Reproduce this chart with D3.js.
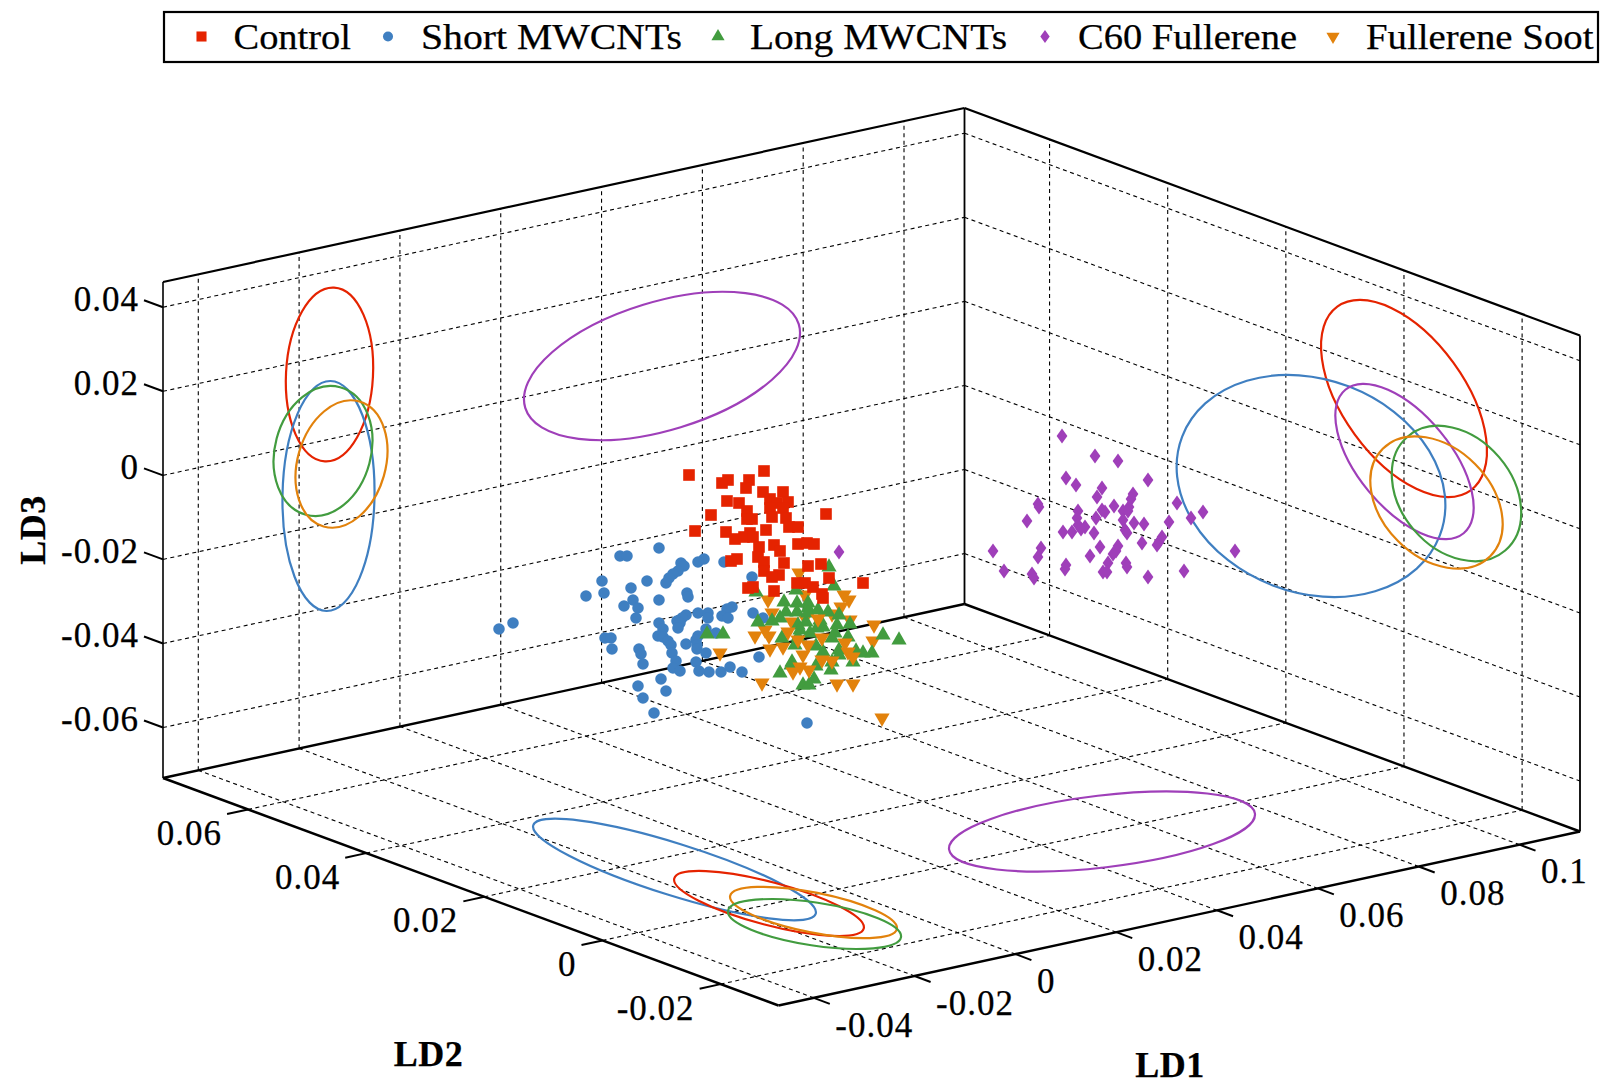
<!DOCTYPE html>
<meta charset="utf-8">
<title>LD scores</title>
<style>
  body { margin: 0; background: #fff; }
  text { font-family: "Liberation Serif", serif; fill: #000; stroke: #000; stroke-width: 0.25px; }
</style>
<svg width="1600" height="1084"></svg>
<script src="https://d3js.org/d3.v7.min.js"></script>
<script>

var seriesNames = ["Control", "Short MWCNTs", "Long MWCNTs", "C60 Fullerene", "Fullerene Soot"];
var seriesColors = ["#e52300", "#3f7fc1", "#429c3f", "#9f3fb9", "#e2820c"];

var ld1Ticks = [-0.04, -0.02, 0, 0.02, 0.04, 0.06, 0.08, 0.1];
var ld2Ticks = [-0.02, 0, 0.02, 0.04, 0.06];
var ld3Ticks = [-0.06, -0.04, -0.02, 0, 0.02, 0.04];

// Only the projection can be read from one picture, not the depth of a point,
// so the points are kept as [u, v] on the plane of the view (see viewX / viewY)
var control = [[-.0622,.005],[-.0472,.0058],[-.0544,.004],[-.0556,.0034],[-.0502,.004],[-.0508,.0024],[-.0474,.0016],[-.0434,.0016],[-.0546,-.0002],[-.0522,-.0006],[-.046,.0002],[-.0446,-.0006],[-.0424,-.0004],[-.046,-.0016],[-.0434,-.0016],[-.0506,-.0022],[-.0578,-.003],[-.0348,-.0028],[-.0456,-.0034],[-.0428,-.0036],[-.0506,-.0038],[-.0496,-.0038],[-.0422,-.0054],[-.0404,-.0054],[-.061,-.0062],[-.0548,-.0064],[-.0468,-.006],[-.05,-.0066],[-.053,-.0078],[-.0512,-.0074],[-.0494,-.0074],[-.0482,-.0094],[-.0452,-.009],[-.044,-.0102],[-.0404,-.0088],[-.0386,-.0086],[-.0372,-.0088],[-.0484,-.0114],[-.0526,-.0118],[-.0538,-.0122],[-.0472,-.0124],[-.0432,-.0126],[-.0384,-.0132],[-.0358,-.0128],[-.0472,-.0142],[-.0442,-.015],[-.0456,-.0154],[-.0342,-.0156],[-.0274,-.0166],[-.0406,-.0166],[-.039,-.0166],[-.0374,-.0174],[-.0494,-.0174],[-.0504,-.0176],[-.0452,-.0182],[-.0356,-.0188],[-.0354,-.0196]];

var shortTubes = [[-.0682,-.0096],[-.076,-.0112],[-.0746,-.0112],[-.0592,-.0118],[-.0604,-.0124],[-.0638,-.0126],[-.0552,-.0124],[-.0632,-.0132],[-.0644,-.0142],[-.0654,-.0148],[-.0662,-.0156],[-.0668,-.0166],[-.0796,-.0162],[-.0706,-.0162],[-.0496,-.0154],[-.0738,-.0176],[-.0792,-.0186],[-.0828,-.0192],[-.0626,-.0186],[-.0624,-.0194],[-.0682,-.02],[-.0734,-.02],[-.0752,-.0212],[-.0724,-.0216],[-.0728,-.0236],[-.0974,-.0246],[-.1002,-.0258],[-.0536,-.0214],[-.0546,-.0218],[-.0604,-.0226],[-.0584,-.0226],[-.0584,-.0236],[-.0556,-.0232],[-.0544,-.0236],[-.0494,-.0226],[-.0474,-.0236],[-.0628,-.023],[-.0636,-.0236],[-.0646,-.0242],[-.064,-.0246],[-.0644,-.0256],[-.0682,-.0246],[-.0674,-.0258],[-.0684,-.0272],[-.0674,-.0274],[-.0664,-.0282],[-.0658,-.029],[-.0588,-.0258],[-.0568,-.0266],[-.0604,-.0272],[-.0608,-.028],[-.0628,-.0288],[-.0606,-.029],[-.0606,-.0298],[-.079,-.0276],[-.0778,-.0276],[-.0776,-.0298],[-.0722,-.0298],[-.0718,-.0308],[-.0714,-.0328],[-.0656,-.0306],[-.0588,-.0306],[-.0648,-.0322],[-.0608,-.0324],[-.0654,-.0336],[-.064,-.0342],[-.0602,-.0342],[-.0582,-.0344],[-.0558,-.0344],[-.054,-.0334],[-.0516,-.0344],[-.0482,-.0314],[-.0678,-.0358],[-.0724,-.0372],[-.0668,-.0382],[-.0714,-.0396],[-.0692,-.0426],[-.0386,-.0446]];

var longTubes = [[-.0554,-.0268],[-.0586,-.0268],[-.0484,-.0244],[-.0432,-.0204],[-.0406,-.0206],[-.0384,-.0206],[-.0332,-.0172],[-.0488,-.0184],[-.0408,-.018],[-.0428,-.0224],[-.0406,-.0224],[-.0384,-.0216],[-.0364,-.022],[-.0344,-.0224],[-.0322,-.023],[-.0456,-.0242],[-.044,-.0236],[-.0388,-.0244],[-.0404,-.025],[-.036,-.024],[-.03,-.0248],[-.0326,-.025],[-.04,-.026],[-.0366,-.0256],[-.0354,-.0254],[-.033,-.0266],[-.0304,-.0274],[-.0436,-.0276],[-.0336,-.0276],[-.0234,-.027],[-.0202,-.028],[-.041,-.029],[-.0368,-.0292],[-.0354,-.0304],[-.0322,-.03],[-.0288,-.0302],[-.0274,-.0306],[-.0256,-.0306],[-.0416,-.0324],[-.0418,-.033],[-.0368,-.0332],[-.0336,-.0324],[-.0338,-.034],[-.0294,-.0324],[-.044,-.0346],[-.0372,-.0358],[-.0394,-.037],[-.0382,-.037],[-.0322,-.031],[-.0404,-.0274],[-.038,-.0266],[-.0384,-.0226],[-.0342,-.0134]];

var c60 = [[.0124,.0128],[.019,.0088],[.0236,.0078],[.0132,.0044],[.0152,.003],[.0296,.004],[.0204,.0024],[.0194,.0006],[.0266,.0012],[.0262,.0002],[.0076,-.0008],[.0078,-.0014],[.0228,-.0012],[.0258,-.0014],[.0204,-.002],[.021,-.0024],[.0246,-.0022],[.0256,-.0022],[.0156,-.0022],[.0154,-.0036],[.0192,-.0036],[.0054,-.0042],[.0246,-.004],[.0268,-.0046],[.0288,-.0048],[.0354,-.0006],[.0406,-.0024],[.0382,-.0036],[.0338,-.0044],[.0156,-.005],[.017,-.0054],[.0162,-.0058],[.0126,-.0064],[.0144,-.0064],[.0188,-.0066],[.025,-.006],[.0254,-.0066],[.0324,-.0074],[.0318,-.0084],[.0314,-.009],[.0284,-.0086],[.02,-.0094],[.0236,-.0092],[.0232,-.0102],[.0226,-.0108],[-.0014,-.0102],[.0082,-.0096],[.0076,-.0114],[.018,-.0112],[.047,-.0102],[.0252,-.0126],[.0254,-.0134],[.0216,-.0126],[.0132,-.013],[.013,-.0138],[.0206,-.0144],[.0214,-.0144],[.0008,-.0142],[.0064,-.0148],[.0068,-.0156],[.0296,-.0154],[.0368,-.0142],[-.0322,-.0104]];

// the soot cloud lies partly behind and partly in front of the long tubes
var sootBack = [[-.0464,-.02],[-.0402,-.0146],[-.0312,-.019],[-.0302,-.02],[-.0318,-.0214],[-.0456,-.0226],[-.0336,-.0228],[-.03,-.024],[-.0252,-.025],[-.0254,-.0282],[-.049,-.0272],[-.047,-.026],[-.0462,-.0272],[-.046,-.0298],[-.0434,-.0294],[-.0416,-.0244],[-.039,-.0236],[-.0476,-.0366],[-.0326,-.0368],[-.0294,-.0368],[-.0236,-.0436],[-.056,-.0306],[-.039,-.019]];
var sootFront = [[-.0364,-.0238],[-.0424,-.0264],[-.0404,-.028],[-.0384,-.029],[-.0356,-.0276],[-.031,-.0286],[-.0304,-.0304],[-.0294,-.0314],[-.0394,-.031],[-.0356,-.032],[-.0336,-.0322],[-.04,-.0334],[-.0382,-.034],[-.0414,-.0344]];

// confidence ellipses: series index, centre u, centre v, semi axes, tilt in degrees
var leftWallEllipses = [[0,-.1341,.0251,.0174,.0087,93],[1,-.1343,.0008,.023,.0092,91],[2,-.1354,.0098,.0132,.0096,105],[4,-.1317,.0072,.013,.0088,106],[3,-.0676,.0268,.0286,.0128,-17]];
var rightWallEllipses = [[0,.0808,.0203,.0227,.0122,54],[1,.0622,.0028,.0276,.0213,21],[3,.0809,.0077,.0186,.0093,50.5],[2,.0913,.0013,.015,.0112,49.5],[4,.0873,-.0005,.0152,.0109,45]];
var floorEllipses = [[3,.0204,-.0663,.0308,.0072,-6.7],[1,-.0651,-.0739,.0296,.0052,17.4],[0,-.0462,-.0807,.0196,.0043,14.8],[4,-.0373,-.0825,.017,.004,11.2],[2,-.0371,-.0848,.0175,.0043,8.6]];

var legendTextWidth = [117.5, 261, 257, 219, 227.5];
var legendTextX = [233.5, 421, 750, 1078, 1366];
var legendMarkX = [201.5, 388, 718, 1045, 1333];

var svg = d3.select("svg");

// the plane of the view
var viewX = d3.scaleLinear().domain([-0.2, 0.12]).range([0, 1600]);
var viewY = d3.scaleLinear().domain([0.1, -0.1168]).range([0, 1084]);

// the box: an affine projection from its front floor corner
var ld1Min = -0.047, ld1Max = 0.112, ld2Min = -0.0298, ld2Max = 0.0744, ld3Min = -0.072, ld3Max = 0.046;
var ld1Frac = d3.scaleLinear().domain([ld1Min, ld1Max]).range([0, 1]);
var ld2Frac = d3.scaleLinear().domain([ld2Min, ld2Max]).range([0, 1]);
var ld3Frac = d3.scaleLinear().domain([ld3Min, ld3Max]).range([0, 1]);

function project(a, b, c) {
    var u = ld1Frac(a), v = ld2Frac(b), w = ld3Frac(c);
    return [778.5 + u * 801.5 + v * -615.5, 1005.5 + u * -174 + v * -227.5 - w * 496];
}

var line = d3.line();

function seg(from, to, width, dashed) {
    svg.append("path")
        .attr("d", line([project.apply(null, from), project.apply(null, to)]))
        .attr("fill", "none")
        .attr("stroke", "#000")
        .attr("stroke-width", width)
        .attr("stroke-dasharray", dashed ? "4,3.5" : null);
}

// grid
ld1Ticks.forEach(function(t) {
    seg([t, ld2Max, ld3Min], [t, ld2Max, ld3Max], 1.1, true);
    seg([t, ld2Min, ld3Min], [t, ld2Max, ld3Min], 1.1, true);
});
ld2Ticks.forEach(function(t) {
    seg([ld1Max, t, ld3Min], [ld1Max, t, ld3Max], 1.1, true);
    seg([ld1Min, t, ld3Min], [ld1Max, t, ld3Min], 1.1, true);
});
ld3Ticks.forEach(function(t) {
    seg([ld1Min, ld2Max, t], [ld1Max, ld2Max, t], 1.1, true);
    seg([ld1Max, ld2Max, t], [ld1Max, ld2Min, t], 1.1, true);
});

// box
seg([ld1Min, ld2Max, ld3Min], [ld1Min, ld2Max, ld3Max], 1.6);
seg([ld1Max, ld2Max, ld3Min], [ld1Max, ld2Max, ld3Max], 1.8);
seg([ld1Max, ld2Min, ld3Min], [ld1Max, ld2Min, ld3Max], 1.8);
seg([ld1Min, ld2Max, ld3Max], [ld1Max, ld2Max, ld3Max], 2.2);
seg([ld1Max, ld2Max, ld3Max], [ld1Max, ld2Min, ld3Max], 2.2);
seg([ld1Min, ld2Max, ld3Min], [ld1Max, ld2Max, ld3Min], 2.4);
seg([ld1Max, ld2Max, ld3Min], [ld1Max, ld2Min, ld3Min], 2.4);
seg([ld1Min, ld2Max, ld3Min], [ld1Min, ld2Min, ld3Min], 2.4);
seg([ld1Min, ld2Min, ld3Min], [ld1Max, ld2Min, ld3Min], 2.4);

// ticks and their labels
function tick(p, dx, dy) {
    svg.append("path")
        .attr("d", line([p, [p[0] + dx, p[1] + dy]]))
        .attr("stroke", "#000")
        .attr("stroke-width", 2);
}
function tickLabel(str, x, y, anchor) {
    svg.append("text")
        .attr("x", x)
        .attr("y", y)
        .attr("text-anchor", anchor)
        .attr("font-size", 35)
        .attr("letter-spacing", 1)
        .text(str);
}
ld3Ticks.forEach(function(t) {
    var p = project(ld1Min, ld2Max, t);
    tick(p, -19, -7);
    tickLabel(String(t), p[0] - 24, p[1] + 3.5, "end");
});
ld2Ticks.forEach(function(t) {
    var p = project(ld1Min, t, ld3Min);
    tick(p, -21, 4.6);
    tickLabel(String(t), p[0] - 26, p[1] + 35.5, "end");
});
ld1Ticks.forEach(function(t) {
    var p = project(t, ld2Min, ld3Min);
    tick(p, 16, 6);
    tickLabel(String(t), p[0] + 21.5, p[1] + 38.8, "start");
});

// axis titles
function axisTitle(str, x, y, rotate) {
    svg.append("text")
        .attr("transform", "translate(" + x + "," + y + ") rotate(" + rotate + ")")
        .attr("text-anchor", "middle")
        .attr("font-size", 36)
        .attr("font-weight", "bold")
        .attr("letter-spacing", 0.5)
        .text(str);
}
axisTitle("LD3", 45, 530, -90);
axisTitle("LD2", 428.5, 1065.5, 0);
axisTitle("LD1", 1170, 1076.5, 0);

// ellipses
var unit = viewX(1) - viewX(0);
svg.append("g")
    .selectAll("ellipse")
    .data(leftWallEllipses.concat(rightWallEllipses, floorEllipses))
    .enter()
    .append("ellipse")
    .attr("rx", function(d) { return d[3] * unit; })
    .attr("ry", function(d) { return d[4] * unit; })
    .attr("transform", function(d) {
        return "translate(" + viewX(d[1]) + "," + viewY(d[2]) + ") rotate(" + d[5] + ")";
    })
    .attr("fill", "none")
    .attr("stroke", function(d) { return seriesColors[d[0]]; })
    .attr("stroke-width", 2.2);

// narrow diamond
var thinDiamond = {
    draw: function(ctx, size) {
        var h = Math.sqrt(size) * 0.75, w = h * 0.72;
        ctx.moveTo(0, -h);
        ctx.lineTo(w, 0);
        ctx.lineTo(0, h);
        ctx.lineTo(-w, 0);
        ctx.closePath();
    }
};

var markers = [
    { type: d3.symbolSquare, size: 135, flip: false },
    { type: d3.symbolCircle, size: 105, flip: false },
    { type: d3.symbolTriangle, size: 100, flip: false },
    { type: thinDiamond, size: 100, flip: false },
    { type: d3.symbolTriangle, size: 100, flip: true }
];

function markerPath(i) {
    return d3.symbol().type(markers[i].type).size(markers[i].size)();
}
function markerTransform(i, x, y) {
    return "translate(" + x + "," + y + ")" + (markers[i].flip ? " rotate(180)" : "");
}

// painted back to front
[[1, shortTubes], [4, sootBack], [2, longTubes], [4, sootFront], [0, control], [3, c60]].forEach(function(s) {
    svg.append("g")
        .selectAll("path")
        .data(s[1])
        .enter()
        .append("path")
        .attr("d", markerPath(s[0]))
        .attr("transform", function(d) { return markerTransform(s[0], viewX(d[0]), viewY(d[1])); })
        .attr("fill", seriesColors[s[0]]);
});

// legend
svg.append("rect")
    .attr("x", 164)
    .attr("y", 12)
    .attr("width", 1434)
    .attr("height", 50)
    .attr("fill", "#fff")
    .attr("stroke", "#000")
    .attr("stroke-width", 2.2);

seriesNames.forEach(function(name, i) {
    svg.append("path")
        .attr("d", d3.symbol().type(markers[i].type).size(markers[i].size * 0.75)())
        .attr("transform", markerTransform(i, legendMarkX[i], 36.5))
        .attr("fill", seriesColors[i]);
    svg.append("text")
        .attr("x", legendTextX[i])
        .attr("y", 49)
        .attr("font-size", 36)
        .attr("textLength", legendTextWidth[i])
        .attr("lengthAdjust", "spacingAndGlyphs")
        .text(name);
});

</script>
